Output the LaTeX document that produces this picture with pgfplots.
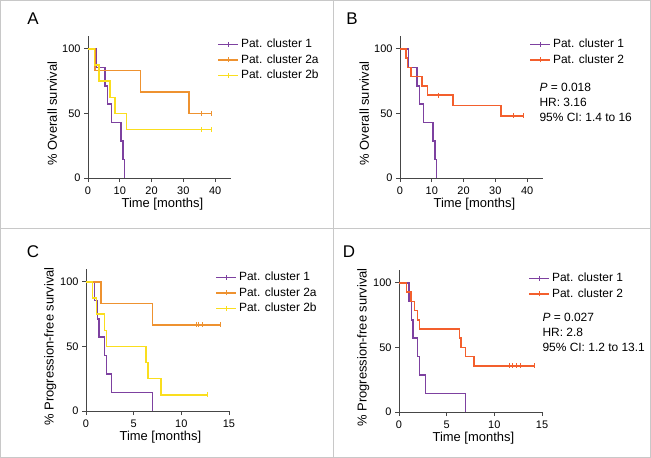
\documentclass[border=0pt]{standalone}
\usepackage{pgfplots}
\pgfplotsset{compat=1.18}
\usepackage{fontspec}
\setmainfont{Liberation Sans}
\definecolor{cPurple}{RGB}{125,65,160}
\definecolor{cOrange}{RGB}{238,146,48}
\definecolor{cYellow}{RGB}{250,222,30}
\definecolor{cRed}{RGB}{243,95,45}
\definecolor{axisgray}{RGB}{70,70,70}
\definecolor{framegray}{RGB}{200,200,200}
\pgfplotsset{
  km/.style={
    scale only axis, width=143bp, height=142bp,
    xmin=0, ymin=0, ymax=110,
    axis lines*=left,
    axis line style={draw=axisgray, line width=0.9bp},
    tick style={draw=axisgray, line width=0.9bp},
    tick align=outside, major tick length=4bp,
    ytick={0,50,100},
    tick label style={font=\fontsize{11}{13}\selectfont, text=black},
    /pgf/number format/assume math mode=true,
    xticklabel style={yshift=-1bp},
    xlabel={Time [months]},
    every axis x label/.style={at={(axis description cs:0.52,0)}, anchor=north, yshift=-17bp,
      font=\fontsize{13}{15}\selectfont},
    every axis y label/.style={at={(axis description cs:-0.25,0.455)}, rotate=90, anchor=center,
      font=\fontsize{13}{15}\selectfont},
    legend cell align=left,
    legend style={draw=none, fill=none, at={(axis description cs:0.905,0.995)}, anchor=north west,
      font=\fontsize{12}{14}\selectfont, row sep=0.5bp, inner sep=0pt,
      nodes={inner sep=2bp, text height=8.6bp, text depth=2.4bp}},
    clip=false,
    const plot,
    every axis plot/.append style={line width=1.5bp},
  },
  cens/.style={only marks, mark=|, mark size=2.5bp, forget plot, mark options={line width=1bp}},
  kmleg/.style={legend image code/.code={
     \draw[##1,line width=1.5bp] (0bp,0bp)--(20bp,0bp);
     \draw[##1,line width=1bp] (10bp,-2.5bp)--(10bp,2.5bp);}},
}
\begin{document}
\begin{tikzpicture}
\useasboundingbox (0,0) rectangle (651bp,-458bp);
\draw[framegray, line width=1bp] (0.5bp,-0.5bp) rectangle (650.5bp,-457.5bp);
\draw[framegray, line width=1bp] (333.5bp,-0.5bp) -- (333.5bp,-457.5bp);
\draw[framegray, line width=1bp] (0.5bp,-228.5bp) -- (650.5bp,-228.5bp);

\node[font=\fontsize{17}{17}\selectfont] at (33bp,-19bp) {A};
\node[font=\fontsize{17}{17}\selectfont] at (352bp,-19bp) {B};
\node[font=\fontsize{17}{17}\selectfont] at (33bp,-252bp) {C};
\node[font=\fontsize{17}{17}\selectfont] at (349bp,-252bp) {D};

% Panel A
\begin{axis}[km, at={(88bp,-178bp)}, anchor=south west, xmax=45, xtick={0,10,20,30,40},
  ylabel={\% Overall survival}]
\addplot[cPurple, kmleg] coordinates {(0,100) (2.7,85.71) (5.4,71.43) (6.2,57.14) (7.45,42.86) (10.35,28.57) (10.95,14.29) (11.45,0)};
\addlegendentry{Pat. cluster 1}
\addplot[cOrange, kmleg] coordinates {(0,100) (2.2,83.33) (16.6,66.67) (31.8,50) (39,50)};
\addlegendentry{Pat. cluster 2a}
\addplot[cYellow, kmleg] coordinates {(0,100) (2.0,87.5) (3.4,75) (6.9,62.5) (8.5,50) (12.1,37.5) (39,37.5)};
\addlegendentry{Pat. cluster 2b}
\addplot[cOrange, cens] coordinates {(35.7,50) (39,50)};
\addplot[cYellow, cens] coordinates {(35.7,37.5) (39,37.5)};
\end{axis}

% Panel B
\begin{axis}[km, at={(400bp,-178bp)}, anchor=south west, xmax=45, xtick={0,10,20,30,40},
  ylabel={\% Overall survival}]
\addplot[cPurple, kmleg] coordinates {(0,100) (2.7,85.71) (5.4,71.43) (6.2,57.14) (7.45,42.86) (10.35,28.57) (10.95,14.29) (11.45,0)};
\addlegendentry{Pat. cluster 1}
\addplot[cRed, kmleg] coordinates {(0,100) (1.9,92.86) (2.3,85.71) (3.5,78.57) (7.0,71.43) (8.6,64.29) (16.6,56.25) (31.8,48.21) (39,48.21)};
\addlegendentry{Pat. cluster 2}
\addplot[cRed, cens] coordinates {(12.1,64.29) (35.7,48.21) (39,48.21)};
\end{axis}
\node[anchor=west, font=\fontsize{12}{14}\selectfont] at (536bp,-87bp) {\textit{P} = 0.018};
\node[anchor=west, font=\fontsize{12}{14}\selectfont] at (536bp,-102bp) {HR: 3.16};
\node[anchor=west, font=\fontsize{12}{14}\selectfont] at (536bp,-117bp) {95\% CI: 1.4 to 16};

% Panel C
\begin{axis}[km, at={(86bp,-411bp)}, anchor=south west, xmax=15, xtick={0,5,10,15},
  ylabel={\% Progression-free survival}]
\addplot[cPurple, kmleg] coordinates {(0,100) (0.9,85.71) (1.2,71.43) (1.37,57.14) (1.93,42.86) (2.17,28.57) (2.7,14.29) (6.97,0)};
\addlegendentry{Pat. cluster 1}
\addplot[cOrange, kmleg] coordinates {(0,100) (1.58,83.33) (6.97,66.67) (14.1,66.67)};
\addlegendentry{Pat. cluster 2a}
\addplot[cYellow, kmleg] coordinates {(0,100) (0.67,87.5) (1.1,75) (1.93,62.5) (2.17,50) (6.27,37.5) (6.5,25) (7.85,12.5) (12.7,12.5)};
\addlegendentry{Pat. cluster 2b}
\addplot[cOrange, cens] coordinates {(11.6,66.67) (11.85,66.67) (12.2,66.67) (14.1,66.67)};
\addplot[cYellow, cens] coordinates {(12.7,12.5)};
\end{axis}

% Panel D
\begin{axis}[km, at={(399bp,-412bp)}, anchor=south west, xmax=15, xtick={0,5,10,15},
  ylabel={\% Progression-free survival}]
\addplot[cPurple, kmleg] coordinates {(0,100) (1.05,85.71) (1.33,71.43) (1.47,57.14) (1.96,42.86) (2.17,28.57) (2.8,14.29) (7.0,0)};
\addlegendentry{Pat. cluster 1}
\addplot[cRed, kmleg] coordinates {(0,100) (0.77,92.86) (1.26,85.71) (1.64,78.57) (1.96,71.43) (2.17,64.29) (6.36,57.14) (6.5,50) (6.96,42.86) (7.87,35.71) (14.2,35.71)};
\addlegendentry{Pat. cluster 2}
\addplot[cRed, cens] coordinates {(11.6,35.71) (11.9,35.71) (12.3,35.71) (12.7,35.71) (14.2,35.71)};
\end{axis}
\node[anchor=west, font=\fontsize{12}{14}\selectfont] at (539bp,-317bp) {\textit{P} = 0.027};
\node[anchor=west, font=\fontsize{12}{14}\selectfont] at (539bp,-332bp) {HR: 2.8};
\node[anchor=west, font=\fontsize{12}{14}\selectfont] at (539bp,-347bp) {95\% CI: 1.2 to 13.1};
\end{tikzpicture}
\end{document}
